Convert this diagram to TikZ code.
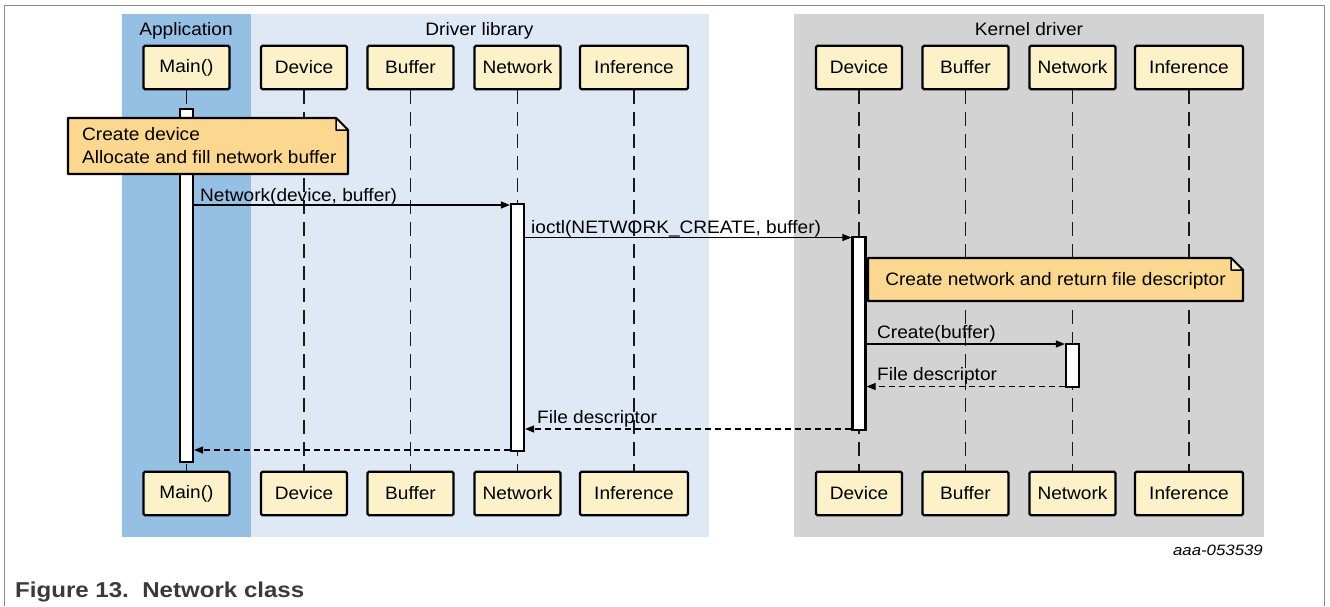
\documentclass[tikz,border=0pt]{standalone}
\usepackage{fontspec}
\setmainfont{Liberation Sans}[FakeStretch=1.06]
\newfontfamily\capfont{Liberation Sans}[FakeStretch=1.12]
\usetikzlibrary{arrows.meta,calc}
\definecolor{appblue}{HTML}{95BFE3}
\definecolor{drvblue}{HTML}{DFE9F5}
\definecolor{kgray}{HTML}{D3D3D3}
\definecolor{boxfill}{HTML}{FCF1C9}
\definecolor{notefill}{HTML}{FBD78F}
\definecolor{framegray}{HTML}{8A8A8A}
\definecolor{capgray}{HTML}{3A3A3A}
\begin{document}
\begin{tikzpicture}[x=1pt,y=-1pt,
  every node/.style={font=\fontsize{18}{23}\selectfont, text=black},
  objbox/.style={draw=black, line width=2.3pt, fill=boxfill, rounded corners=1.5pt,
    minimum width=86pt, minimum height=43.5pt, inner sep=0pt},
  wideobj/.style={objbox, minimum width=108pt},
  lifeline/.style={draw=black!90, line width=1.5pt, dash pattern=on 14pt off 8pt},
  actbar/.style={draw=black, line width=2.2pt, fill=white, minimum width=13pt, inner sep=0pt},
  msg/.style={draw=black, line width=1.2pt, -{Triangle[length=9pt,width=7pt]}},
  ret/.style={msg, dash pattern=on 6pt off 4pt},
  lbl/.style={anchor=base west, inner sep=0pt},
  notebg/.style={fill=notefill, draw=black, line width=2.2pt, line join=round},
  foldst/.style={fill=notefill!45!white, draw=black, line width=1.5pt, line join=round},
  bandtitle/.style={anchor=base, inner sep=0pt}
]
\useasboundingbox (0,0) rectangle (1330,606);
% frame
\draw[framegray, line width=1pt] (4,606) -- (4,5) -- (1324.5,5) -- (1324.5,606);
% bands
\fill[appblue] (122,14) rectangle (250.5,537);
\fill[drvblue] (250.5,14) rectangle (709,537);
\fill[kgray] (794,14) rectangle (1264,537);
\node[bandtitle] (tApp) at (186,35) {Application};
\node[bandtitle] (tDrv) at (479.5,35) {Driver library};
\node[bandtitle] (tKer) at (1029,35) {Kernel driver};
% objects top
\node[objbox] (mainT) at (186.5,67.5) {Main()};
\node[objbox] (dDevT) at (304,67.5) {Device};
\node[objbox] (dBufT) at (410.5,67.5) {Buffer};
\node[objbox] (dNetT) at (517.5,67.5) {Network};
\node[wideobj] (dInfT) at (634,67.5) {Inference};
\node[objbox] (kDevT) at (859,67.5) {Device};
\node[objbox] (kBufT) at (965.5,67.5) {Buffer};
\node[objbox] (kNetT) at (1072.5,67.5) {Network};
\node[wideobj] (kInfT) at (1189,67.5) {Inference};
% objects bottom
\node[objbox] (mainB) at (186.5,493.5) {Main()};
\node[objbox] (dDevB) at (304,493.5) {Device};
\node[objbox] (dBufB) at (410.5,493.5) {Buffer};
\node[objbox] (dNetB) at (517.5,493.5) {Network};
\node[wideobj] (dInfB) at (634,493.5) {Inference};
\node[objbox] (kDevB) at (859,493.5) {Device};
\node[objbox] (kBufB) at (965.5,493.5) {Buffer};
\node[objbox] (kNetB) at (1072.5,493.5) {Network};
\node[wideobj] (kInfB) at (1189,493.5) {Inference};
% lifelines
\foreach \o in {main,dDev,dBuf,dNet,dInf,kDev,kBuf,kNet,kInf}{
  \draw[lifeline] (\o T.south) -- (\o B.north);
}
% activation bars
\node[actbar, minimum height=353pt] (actMain) at (mainT |- 0,285.5) {};
\node[actbar, minimum height=247pt] (actNet) at (dNetT |- 0,327.5) {};
\node[actbar, minimum height=193pt] (actKDev) at (kDevT |- 0,333.5) {};
\node[actbar, minimum height=43pt] (actKNet) at (kNetT |- 0,365.5) {};
% messages
\draw[msg] (actMain.east |- 0,205) -- (actNet.west |- 0,205);
\node[lbl] (l1) at (200,201) {Network(device, buffer)};
\draw[msg] (actNet.east |- 0,237.5) -- (actKDev.west |- 0,237.5);
\node[lbl] (l2) at (531,233) {ioctl(NETWORK\_CREATE, buffer)};
\draw[msg] (actKDev.east |- 0,344) -- (actKNet.west |- 0,344);
\node[lbl] (l3) at (877,338) {Create(buffer)};
\draw[ret] (actKNet.west |- 0,386.5) -- (actKDev.east |- 0,386.5);
\node[lbl] (l4) at (877,380) {File descriptor};
\draw[ret] (actKDev.west |- 0,429) -- (actNet.east |- 0,429);
\node[lbl] (l5) at (537,423) {File descriptor};
\draw[ret] (actNet.west |- 0,450) -- (actMain.east |- 0,450);
% note 1
\coordinate (n1a) at (68,118);
\coordinate (n1b) at (348,174);
\path[notebg] (n1a) -- ($(n1b|-n1a)+(-12,0)$) -- ($(n1b|-n1a)+(0,12)$) -- (n1b) -- (n1a|-n1b) -- cycle;
\path[foldst] ($(n1b|-n1a)+(-12,0)$) -- ($(n1b|-n1a)+(-12,12)$) -- ($(n1b|-n1a)+(0,12)$) -- cycle;
\node[anchor=north west, align=left, inner sep=0pt] (note1) at (82,127) {Create device\\Allocate and fill network buffer};
% note 2
\coordinate (n2a) at (868,258);
\coordinate (n2b) at (1243,301);
\path[notebg] (n2a) -- ($(n2b|-n2a)+(-12,0)$) -- ($(n2b|-n2a)+(0,12)$) -- (n2b) -- (n2a|-n2b) -- cycle;
\path[foldst] ($(n2b|-n2a)+(-12,0)$) -- ($(n2b|-n2a)+(-12,12)$) -- ($(n2b|-n2a)+(0,12)$) -- cycle;
\node[anchor=base, inner sep=0pt] (note2) at (1055.5,285) {Create network and return file descriptor};
% captions
\node[anchor=base east, inner sep=0pt, font=\capfont\fontsize{15}{18}\selectfont\itshape] (fid) at (1263,555) {aaa-053539};
\node[anchor=base west, inner sep=0pt, text=capgray, font=\capfont\fontsize{21.5}{25}\selectfont\bfseries] (cap) at (15,597) {Figure 13.\ \ Network class};
\end{tikzpicture}
\end{document}
